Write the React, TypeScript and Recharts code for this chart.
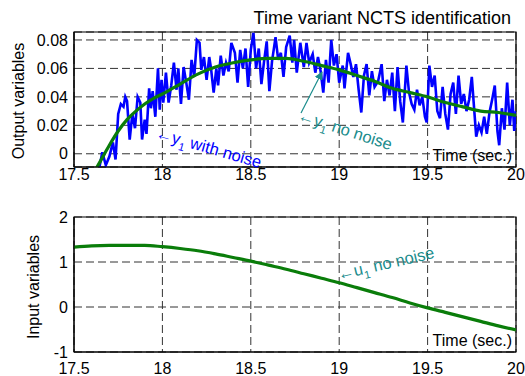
import { LineChart, Line, XAxis, YAxis, CartesianGrid, ReferenceArea } from "recharts";

const xTicks = [17.5, 18, 18.5, 19, 19.5, 20];
const outTicks = [0, 0.02, 0.04, 0.06, 0.08];
const inTicks = [-1, 0, 1, 2];

// y1 with noise
const y1NoisyTime = [
  17.64, 17.66, 17.68, 17.7, 17.72, 17.735, 17.75, 17.765, 17.78, 17.79, 17.8, 17.815, 17.83, 17.845,
  17.86, 17.875, 17.885, 17.9, 17.91, 17.925, 17.935, 17.945, 17.96, 17.975, 17.985, 17.995, 18.005,
  18.02, 18.035, 18.05, 18.065, 18.08, 18.09, 18.105, 18.12, 18.135, 18.15, 18.165, 18.18, 18.195,
  18.21, 18.22, 18.235, 18.25, 18.265, 18.275, 18.29, 18.305, 18.315, 18.33, 18.345, 18.36, 18.375,
  18.39, 18.41, 18.425, 18.44, 18.455, 18.47, 18.485, 18.5, 18.515, 18.53, 18.545, 18.56, 18.575,
  18.59, 18.605, 18.62, 18.64, 18.655, 18.67, 18.685, 18.7, 18.72, 18.735, 18.745, 18.76, 18.78,
  18.8, 18.815, 18.83, 18.85, 18.865, 18.88, 18.895, 18.91, 18.925, 18.94, 18.955, 18.97, 18.985,
  19.0, 19.02, 19.03, 19.05, 19.065, 19.08, 19.095, 19.11, 19.125, 19.14, 19.155, 19.17, 19.185,
  19.2, 19.22, 19.24, 19.255, 19.27, 19.285, 19.3, 19.315, 19.33, 19.345, 19.36, 19.38, 19.395,
  19.41, 19.425, 19.44, 19.455, 19.47, 19.485, 19.495, 19.51, 19.525, 19.54, 19.555, 19.57, 19.585,
  19.6, 19.615, 19.63, 19.645, 19.66, 19.675, 19.69, 19.705, 19.72, 19.735, 19.75, 19.76, 19.775,
  19.79, 19.805, 19.82, 19.835, 19.85, 19.865, 19.88, 19.895, 19.905, 19.92, 19.935, 19.95, 19.965,
  19.98, 19.99, 20.0,
];
const y1NoisyValue = [
  -0.012, 0.001, -0.008, -0.002, 0.008, -0.004, 0.028, 0.035, 0.033, 0.04, 0.037, 0.01, 0.028, 0.018,
  0.04, 0.036, 0.01, 0.024, 0.014, 0.046, 0.032, 0.044, 0.026, 0.06, 0.031, 0.052, 0.036,
  0.057, 0.036, 0.048, 0.064, 0.045, 0.06, 0.035, 0.061, 0.05, 0.038, 0.066, 0.054, 0.08,
  0.078, 0.059, 0.068, 0.052, 0.068, 0.06, 0.043, 0.06, 0.048, 0.069, 0.055, 0.064, 0.058,
  0.078, 0.071, 0.05, 0.073, 0.06, 0.074, 0.047, 0.073, 0.085, 0.06, 0.074, 0.049, 0.065,
  0.079, 0.044, 0.065, 0.082, 0.066, 0.071, 0.054, 0.075, 0.083, 0.064, 0.08, 0.057, 0.078,
  0.061, 0.078, 0.064, 0.07, 0.057, 0.068, 0.058, 0.043, 0.066, 0.05, 0.08, 0.062, 0.07,
  0.05, 0.062, 0.046, 0.071, 0.063, 0.054, 0.063, 0.045, 0.029, 0.055, 0.063, 0.041, 0.058,
  0.047, 0.051, 0.063, 0.037, 0.052, 0.041, 0.057, 0.03, 0.061, 0.037, 0.022, 0.062, 0.043,
  0.035, 0.031, 0.045, 0.034, 0.04, 0.026, 0.022, 0.062, 0.047, 0.055, 0.03, 0.025, 0.047,
  0.028, 0.017, 0.042, 0.05, 0.028, 0.055, 0.035, 0.042, 0.03, 0.038, 0.054, 0.037, 0.012,
  0.02, 0.015, 0.026, 0.014, 0.029, 0.038, 0.048, 0.016, 0.006, 0.032, 0.017, 0.05, 0.02,
  0.038, 0.016, 0.03,
];

// y1 no noise
const y1Time = [
  17.6, 17.65, 17.7, 17.75, 17.8, 17.85, 17.9, 17.95, 18.0, 18.1, 18.2, 18.3, 18.4, 18.5, 18.6,
  18.7, 18.8, 18.9, 19.0, 19.1, 19.2, 19.3, 19.4, 19.5, 19.6, 19.7, 19.8, 19.9, 20.0,
];
const y1Value = [
  -0.016, -0.005, 0.006, 0.016, 0.024, 0.03, 0.035, 0.039, 0.042, 0.049, 0.056, 0.061, 0.064, 0.066,
  0.067, 0.067, 0.065, 0.062, 0.059, 0.055, 0.051, 0.046, 0.043, 0.04, 0.036, 0.033, 0.03, 0.029, 0.027,
];

// u1 no noise
const u1Time = [
  17.5, 17.6, 17.7, 17.8, 17.9, 18.0, 18.1, 18.2, 18.3, 18.4, 18.5, 18.6, 18.7, 18.8, 18.9, 19.0,
  19.1, 19.2, 19.3, 19.4, 19.5, 19.6, 19.7, 19.8, 19.9, 20.0,
];
const u1Value = [
  1.33, 1.36, 1.37, 1.37, 1.37, 1.34, 1.3, 1.25, 1.18, 1.1, 1.02, 0.93, 0.84, 0.74, 0.64, 0.54,
  0.43, 0.32, 0.21, 0.09, -0.02, -0.12, -0.22, -0.32, -0.42, -0.51,
];

const FONT = "'Liberation Sans', Arial, sans-serif";
const BLUE = "#0000ff";
const GREEN = "#0a7d0a";
const TEAL = "#1a8c8c";

const noisyData = y1NoisyTime.map((t, i) => ({ t, v: y1NoisyValue[i] }));
const y1Data = y1Time.map((t, i) => ({ t, v: y1Value[i] }));
const u1Data = u1Time.map((t, i) => ({ t, v: u1Value[i] }));

const OUT_DOMAIN: [number, number] = [-0.0093, 0.0856];
const IN_DOMAIN: [number, number] = [-1, 2];

const tickStyle = { fill: "#000", fontSize: 16, fontFamily: FONT };

function Panel({
  domain,
  yTicks,
  children,
  xHeight,
  xMargin,
}: {
  domain: [number, number];
  yTicks: number[];
  children: React.ReactNode;
  xHeight: number;
  xMargin: number;
}) {
  return (
    <LineChart
      width={525}
      height={167 + xHeight}
      margin={{ top: 32, right: 9, bottom: 0, left: 0 }}
    >
      <CartesianGrid stroke="#333" strokeDasharray="8 4" />
      <XAxis
        dataKey="t"
        type="number"
        domain={[17.5, 20]}
        ticks={xTicks}
        tick={tickStyle}
        tickLine={false}
        tickMargin={xMargin}
        axisLine={{ stroke: "#000" }}
        height={xHeight}
        allowDataOverflow
      />
      <YAxis
        type="number"
        domain={domain}
        ticks={yTicks}
        tick={tickStyle}
        tickLine={false}
        tickMargin={0}
        axisLine={{ stroke: "#000" }}
        width={74}
        allowDataOverflow
      />
      {children}
      <ReferenceArea
        x1={17.5}
        x2={20}
        y1={domain[0]}
        y2={domain[1]}
        fill="none"
        stroke="#000"
        strokeWidth={1.2}
        ifOverflow="visible"
      />
    </LineChart>
  );
}

export default function App() {
  return (
    <div
      style={{
        position: "fixed",
        left: 0,
        top: 0,
        width: 525,
        height: 376,
        background: "#fff",
        fontFamily: FONT,
        overflow: "hidden",
      }}
    >
      <div style={{ position: "absolute", left: 0, top: 0 }}>
        <Panel domain={OUT_DOMAIN} yTicks={outTicks} xHeight={24} xMargin={-4}>
          <Line
            data={noisyData}
            dataKey="v"
            type="linear"
            stroke={BLUE}
            strokeWidth={2.6}
            dot={false}
            isAnimationActive={false}
          />
          <Line
            data={y1Data}
            dataKey="v"
            type="monotone"
            stroke={GREEN}
            strokeWidth={3.2}
            dot={false}
            isAnimationActive={false}
          />
        </Panel>
      </div>
      <div style={{ position: "absolute", left: 0, top: 185 }}>
        <Panel domain={IN_DOMAIN} yTicks={inTicks} xHeight={24} xMargin={5}>
          <Line
            data={u1Data}
            dataKey="v"
            type="monotone"
            stroke={GREEN}
            strokeWidth={3.2}
            dot={false}
            isAnimationActive={false}
          />
        </Panel>
      </div>
      <svg
        width={525}
        height={376}
        style={{ position: "absolute", left: 0, top: 0, pointerEvents: "none" }}
        fontFamily={FONT}
      >
        <defs>
          <marker id="ah" viewBox="0 0 10 10" refX="9" refY="5" markerWidth="7" markerHeight="7" orient="auto">
            <path d="M0,0 L10,5 L0,10 z" fill={TEAL} />
          </marker>
        </defs>
        <text x={511} y={24} textAnchor="end" fontSize={18} fill="#000">
          Time variant NCTS identification
        </text>
        <text x={0} y={0} transform="translate(24,101) rotate(-90)" textAnchor="middle" fontSize={16} fill="#000">
          Output variables
        </text>
        <text x={0} y={0} transform="translate(39,287) rotate(-90)" textAnchor="middle" fontSize={16} fill="#000">
          Input variables
        </text>
        <text x={512} y={161} textAnchor="end" fontSize={16} fill="#000">
          Time (sec.)
        </text>
        <text x={512} y={346} textAnchor="end" fontSize={16} fill="#000">
          Time (sec.)
        </text>
        <text transform="translate(155,138) rotate(16)" fontSize={16.5} fill={BLUE}>
          ←y<tspan fontSize={11} dy={5}>1</tspan>
          <tspan dy={-5}> with noise</tspan>
        </text>
        <line x1={301} y1={113} x2={322} y2={72} stroke={TEAL} strokeWidth={1.2} markerEnd="url(#ah)" />
        <text transform="translate(297,120) rotate(18)" fontSize={16.5} fill={TEAL}>
          ←y<tspan fontSize={11} dy={5}>1</tspan>
          <tspan dy={-5}> no noise</tspan>
        </text>
        <text transform="translate(339,280) rotate(-13)" fontSize={16.5} fill={TEAL}>
          ←u<tspan fontSize={11} dy={5}>1</tspan>
          <tspan dy={-5}> no noise</tspan>
        </text>
      </svg>
    </div>
  );
}
